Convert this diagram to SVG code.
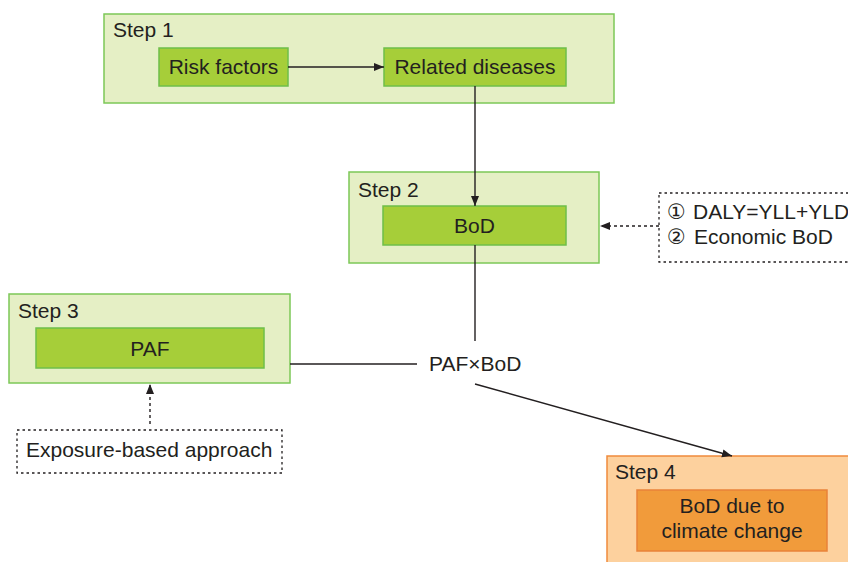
<svg xmlns="http://www.w3.org/2000/svg" width="848" height="562" viewBox="0 0 848 562">
<style>
text{font-family:"Liberation Sans",Arial,"DejaVu Sans",sans-serif;font-size:21px;fill:#231f20}
.c{text-anchor:middle}
.go{fill:#e5efc5;stroke:#7cc857;stroke-width:1.5}
.gi{fill:#a6ce39;stroke:#6ebf4a;stroke-width:1.5}
.oo{fill:#fdd19e;stroke:#ef8a3c;stroke-width:1.5}
.oi{fill:#f19b3b;stroke:#e9823a;stroke-width:1.5}
.ln{stroke:#231f20;stroke-width:1.4;fill:none}
.dt{stroke:#231f20;stroke-width:1.4;fill:none;stroke-dasharray:3 3}
.db{fill:#fff;stroke:#231f20;stroke-width:1.3;stroke-dasharray:2.5 3}
</style>
<defs>
<marker id="ah" viewBox="0 0 10 10" refX="10" refY="5" markerWidth="10" markerHeight="10" markerUnits="userSpaceOnUse" orient="auto">
<path d="M0,1 L10,5 L0,9 Z" fill="#231f20"/>
</marker>
</defs>
<rect width="848" height="562" fill="#fff"/>
<g id="step1">
<rect class="go" x="104" y="14" width="510" height="89"/>
<text x="113" y="37">Step 1</text>
</g>
<g id="risk-factors">
<rect class="gi" x="159" y="48" width="129" height="38"/>
<text class="c" x="223.5" y="74">Risk factors</text>
</g>
<g id="related-diseases">
<rect class="gi" x="384" y="48" width="182" height="38"/>
<text class="c" x="475" y="74">Related diseases</text>
</g>
<g id="step2">
<rect class="go" x="349" y="172" width="250" height="91"/>
<text x="358" y="197">Step 2</text>
</g>
<g id="bod">
<rect class="gi" x="383" y="206" width="183" height="39"/>
<text class="c" x="474.5" y="233">BoD</text>
</g>
<g id="daly-note">
<rect class="db" x="659" y="193" width="200" height="69"/>
<text y="219"><tspan x="667">①</tspan><tspan x="693">DALY=YLL+YLD</tspan></text>
<text y="244"><tspan x="667">②</tspan><tspan x="694">Economic BoD</tspan></text>
</g>
<g id="step3">
<rect class="go" x="9" y="294" width="281" height="89"/>
<text x="18" y="318">Step 3</text>
</g>
<g id="paf">
<rect class="gi" x="36" y="328" width="228" height="40"/>
<text class="c" x="150" y="356">PAF</text>
</g>
<g id="exposure-note">
<rect class="db" x="17" y="430" width="265" height="43"/>
<text x="26" y="457">Exposure-based approach</text>
</g>
<g id="paf-bod">
<text x="429" y="371">PAF×BoD</text>
</g>
<g id="step4">
<rect class="oo" x="607" y="456" width="250" height="120"/>
<text x="615" y="479">Step 4</text>
</g>
<g id="bod-climate">
<rect class="oi" x="637" y="490" width="190" height="61"/>
<text class="c" x="732" y="513">BoD due to</text>
<text class="c" x="732" y="538">climate change</text>
</g>
<g id="connectors">
<line class="ln" x1="288" y1="67" x2="384" y2="67" marker-end="url(#ah)"/>
<line class="ln" x1="475" y1="86" x2="475" y2="206" marker-end="url(#ah)"/>
<line class="dt" x1="659" y1="226" x2="600" y2="226" marker-end="url(#ah)"/>
<line class="ln" x1="475" y1="245" x2="475" y2="341"/>
<line class="ln" x1="290" y1="364" x2="417" y2="364"/>
<line class="dt" x1="150" y1="424" x2="150" y2="384" marker-end="url(#ah)"/>
<line class="ln" x1="475" y1="384" x2="732" y2="456" marker-end="url(#ah)"/>
</g>
</svg>
